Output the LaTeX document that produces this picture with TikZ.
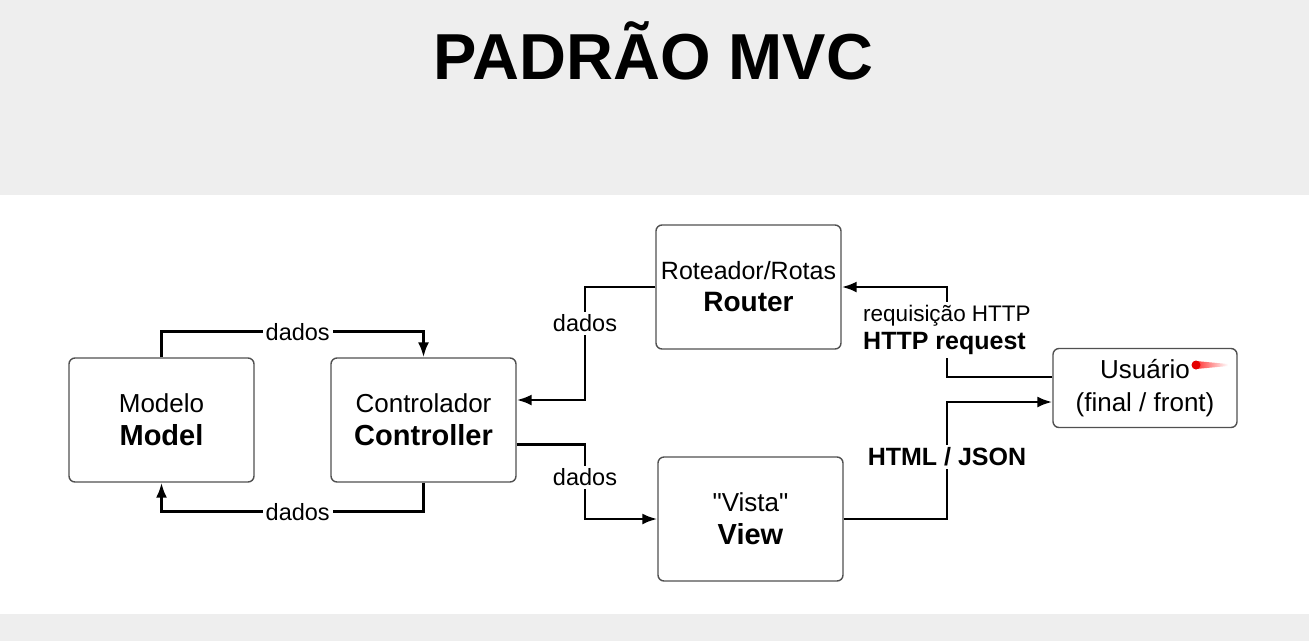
\documentclass[tikz,border=0pt]{standalone}
\usepackage{fontspec}
\setmainfont{Liberation Sans}
\usetikzlibrary{arrows.meta,positioning,calc}
\definecolor{band}{HTML}{EEEEEE}
\definecolor{edge}{HTML}{505050}

\begin{document}
\begin{tikzpicture}[x=1pt, y=-1pt,
  box/.style={draw=edge, line width=1.4pt, rounded corners=6pt, minimum width=185pt, minimum height=124pt, inner sep=0pt, align=center, font=\fontsize{26}{33}\selectfont},
  lbl/.style={fill=white, inner sep=3pt, font=\fontsize{23.5}{28}\selectfont},
  conn/.style={line width=2.7pt, -{Latex[length=15pt,width=11pt]}}]
\useasboundingbox (0,0) rectangle (1309,641);
\fill[band] (0,0) rectangle (1309,195);
\fill[band] (0,614) rectangle (1309,641);
\node[anchor=base, font=\fontsize{65}{70}\selectfont\bfseries] (title) at (653.5,79) {PADRÃO MVC};

% boxes
\node[box] (model) at (161.5,420) {Modelo\\{\fontsize{29}{33}\selectfont\bfseries Model}};
\node[box] (ctrl) at (423.5,420) {Controlador\\{\fontsize{29}{33}\selectfont\bfseries Controller}};
\node[box, font=\fontsize{25}{32}\selectfont] (router) at (748.5,287) {Roteador/Rotas\\{\fontsize{28}{32}\selectfont\bfseries Router}};
\node[box] (view) at (750.5,519) {\textquotedbl Vista\textquotedbl\\{\fontsize{29}{34}\selectfont\bfseries View}};
\node[box, minimum width=184pt, minimum height=79pt] (user) at (1145,388) {Usuário\\(final / front)};

% bus lines
\coordinate (busL) at (585,0);
\coordinate (busR) at (947,0);
\coordinate (cIn) at ([yshift=20pt]ctrl.east);
\coordinate (cOut) at ([yshift=-24.5pt]ctrl.east);
\coordinate (uIn) at ([yshift=-14pt]user.west);
\coordinate (uOut) at ([yshift=11pt]user.west);

\draw[conn] (model.north) -- ++(0,-25.5) -| node[lbl, pos=.26] {dados} (ctrl.north);
\draw[conn] (ctrl.south) -- ++(0,29) -| node[lbl, pos=.24] {dados} (model.south);
\draw[conn] (router.west) -| node[lbl, pos=.66] {dados} (busL |- cIn) -- (cIn);
\draw[conn] (cOut) -| node[lbl, pos=.72] {dados} (busL |- view.west) -- (view.west);
\draw[conn] (view.east) -| node[lbl, pos=.765, font=\fontsize{25}{28}\selectfont\bfseries] {HTML / JSON} (busR |- uIn) -- (uIn);
\draw[conn] (uOut) -| node[lbl, pos=.76, align=left, font=\fontsize{22.5}{28}\selectfont] {requisição HTTP\\{\fontsize{25}{28}\selectfont\bfseries HTTP request}} (busR |- router.east) -- (router.east);

% pointer
\shade[left color=red!80, right color=white] (1196,361) -- (1228,364) -- (1228,366) -- (1196,369) -- cycle;
\fill[red!90!black] (1196,365) circle (4.5);
\end{tikzpicture}
\end{document}
